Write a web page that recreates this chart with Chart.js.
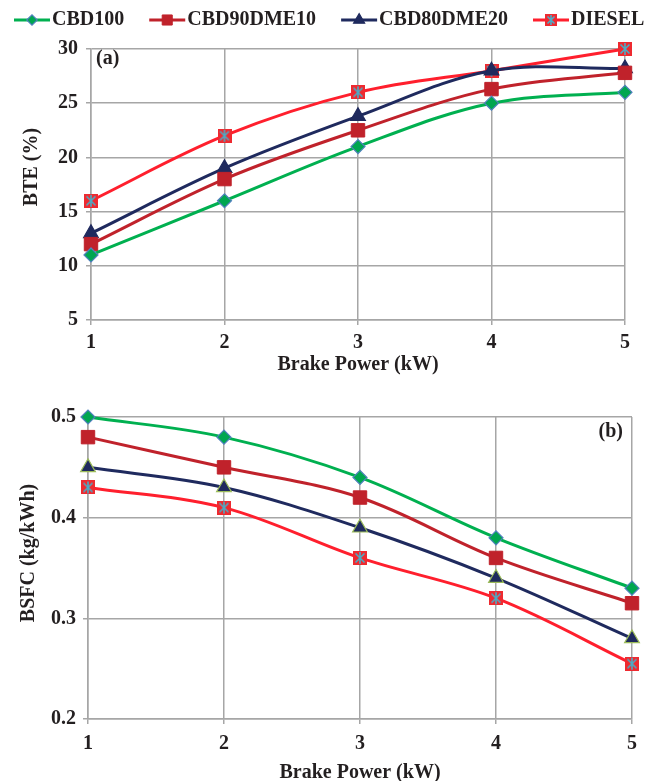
<!DOCTYPE html>
<html>
<head>
<meta charset="utf-8">
<script src="https://cdn.jsdelivr.net/npm/chart.js@4.4.1/dist/chart.umd.min.js"></script>
<style>
  html, body { margin: 0; padding: 0; background: #fff; }
  canvas { display: block; }
</style>
</head>
<body>
<canvas id="bteChart" width="659" height="375"></canvas>
<canvas id="bsfcChart" width="659" height="406"></canvas>
<script>
// Data
const brakePower = [1, 2, 3, 4, 5];
const seriesNames = ['CBD100', 'CBD90DME10', 'CBD80DME20', 'DIESEL'];

// (a) BTE (%)
const bteCBD100 = [11, 16, 21, 25, 26];
const bteCBD90 = [12, 18, 22.5, 26.3, 27.8];
const bteCBD80 = [13, 19, 23.8, 28, 28.2];
const bteDiesel = [16, 22, 26, 28, 30];
const bteTicks = [5, 10, 15, 20, 25, 30];

// (b) BSFC (kg/kWh)
const bsfcCBD100 = [0.5, 0.48, 0.44, 0.38, 0.33];
const bsfcCBD90 = [0.48, 0.45, 0.42, 0.36, 0.315];
const bsfcCBD80 = [0.45, 0.43, 0.39, 0.34, 0.28];
const bsfcDiesel = [0.43, 0.41, 0.36, 0.32, 0.255];
const bsfcTicks = [0.2, 0.3, 0.4, 0.5];

const textColor = '#231F20';
const gridColor = '#A6A6A6';
Chart.defaults.font.family = '"Liberation Serif", "Times New Roman", serif';
Chart.defaults.color = textColor;

// red square with a blue star, like the Excel marker
function dieselMarker(size) {
  const c = document.createElement('canvas');
  c.width = c.height = size;
  const g = c.getContext('2d');
  g.fillStyle = '#EE2A30';
  g.fillRect(0, 0, size, size);
  g.strokeStyle = '#4BACC6';
  g.lineWidth = 1.6;
  const m = 2.5;
  g.beginPath();
  g.moveTo(m, m); g.lineTo(size - m, size - m);
  g.moveTo(size - m, m); g.lineTo(m, size - m);
  g.moveTo(size / 2, 1); g.lineTo(size / 2, size - 1);
  g.stroke();
  return c;
}
const dieselPt = dieselMarker(14);
const dieselPtSmall = dieselMarker(12);

function makeDatasets(vals, triBorder) {
  return [
    { label: seriesNames[0], data: vals[0], borderColor: '#00B050', pointStyle: 'rectRot', pointRadius: 7,
      pointBackgroundColor: '#00A650', pointBorderColor: '#4F81BD', pointBorderWidth: 1.2 },
    { label: seriesNames[1], data: vals[1], borderColor: '#C0222B', pointStyle: 'rect', pointRadius: 9.5,
      pointBackgroundColor: '#C0222B', pointBorderColor: '#C0222B', pointBorderWidth: 1 },
    { label: seriesNames[2], data: vals[2], borderColor: '#1F2A5E', pointStyle: 'triangle', pointRadius: 8.5,
      pointBackgroundColor: '#1F2A5E', pointBorderColor: triBorder, pointBorderWidth: 1.2 },
    { label: seriesNames[3], data: vals[3], borderColor: '#FF1F2D', pointStyle: dieselPt, pointRadius: 7,
      pointBackgroundColor: '#FF1F2D', pointBorderColor: '#FF1F2D', pointBorderWidth: 0 }
  ].map(ds => Object.assign(ds, { borderWidth: 3, tension: 0.35, fill: false, clip: false }));
}

// legend drawn across the top of the first canvas
const topLegend = {
  id: 'topLegend',
  afterDraw(chart) {
    const ctx = chart.ctx;
    ctx.save();
    ctx.font = 'bold 20px "Liberation Serif"';
    ctx.textBaseline = 'middle';
    let x = 14;
    const y = 20;
    chart.data.datasets.forEach(ds => {
      ctx.strokeStyle = ds.borderColor;
      ctx.lineWidth = 3;
      ctx.beginPath();
      ctx.moveTo(x, y);
      ctx.lineTo(x + 36, y);
      ctx.stroke();
      ctx.fillStyle = ds.pointBackgroundColor;
      ctx.strokeStyle = ds.pointBorderColor;
      ctx.lineWidth = ds.pointBorderWidth;
      const style = ds.pointStyle === dieselPt ? dieselPtSmall : ds.pointStyle;
      Chart.helpers.drawPoint(ctx, { pointStyle: style, radius: ds.pointRadius * 0.75, borderWidth: ds.pointBorderWidth }, x + 18, y);
      ctx.fillStyle = textColor;
      ctx.fillText(ds.label, x + 38, y);
      x += 38 + ctx.measureText(ds.label).width + 25;
    });
    ctx.restore();
  }
};

// "(a)" / "(b)" panel tags
const panelTag = {
  id: 'panelTag',
  afterDraw(chart, args, opts) {
    const { ctx, chartArea } = chart;
    ctx.save();
    ctx.font = 'bold 20px "Liberation Serif"';
    ctx.fillStyle = textColor;
    ctx.textBaseline = 'middle';
    if (opts.side === 'left') {
      ctx.textAlign = 'left';
      ctx.fillText(opts.text, chartArea.left + 5, chartArea.top + 10);
    } else {
      ctx.textAlign = 'right';
      ctx.fillText(opts.text, chartArea.right - 9, chartArea.top + 15);
    }
    ctx.restore();
  }
};

const tickFont = { size: 20, weight: 'bold' };
const titleFont = { size: 20, weight: 'bold', lineHeight: 1 };

function makeOptions(o) {
  return {
    responsive: false,
    animation: false,
    layout: { padding: { top: o.top, right: o.right, left: 0, bottom: 0 } },
    plugins: {
      legend: { display: false },
      tooltip: { enabled: false },
      panelTag: { text: o.tag, side: o.tagSide }
    },
    scales: {
      x: {
        type: 'category',
        grid: { color: gridColor, lineWidth: 1.5, tickLength: 5, offset: false },
        border: { color: gridColor, width: 1.5 },
        ticks: { font: tickFont, padding: o.xTickPad, color: textColor },
        title: { display: true, text: 'Brake Power (kW)', font: titleFont, color: textColor, padding: { top: 0, bottom: o.xTitlePad } },
        afterFit: s => { s.height = o.xHeight; }
      },
      y: {
        min: o.ticks[0],
        max: o.ticks[o.ticks.length - 1],
        afterBuildTicks: s => { s.ticks = o.ticks.map(v => ({ value: v })); },
        grid: { color: gridColor, lineWidth: 1.5, tickLength: 5 },
        border: { color: gridColor, width: 1.5 },
        ticks: { font: tickFont, padding: o.tickPad, color: textColor, callback: o.fmt },
        title: { display: true, text: o.yTitle, font: titleFont, color: textColor, padding: { top: o.yTitlePad, bottom: 0 } },
        afterFit: s => { s.width = o.yWidth; }
      }
    }
  };
}

new Chart(document.getElementById('bteChart'), {
  type: 'line',
  data: {
    labels: brakePower.map(String),
    datasets: makeDatasets([bteCBD100, bteCBD90, bteCBD80, bteDiesel], '#1F2A5E')
  },
  options: makeOptions({
    top: 49, right: 34, xHeight: 55, yWidth: 91, tickPad: 8, yTitlePad: 22, xTickPad: 6, xTitlePad: 0,
    ticks: bteTicks, fmt: v => String(v), yTitle: '       BTE (%)', tag: '(a)', tagSide: 'left'
  }),
  plugins: [topLegend, panelTag]
});

new Chart(document.getElementById('bsfcChart'), {
  type: 'line',
  data: {
    labels: brakePower.map(String),
    datasets: makeDatasets([bsfcCBD100, bsfcCBD90, bsfcCBD80, bsfcDiesel], '#9BBB59')
  },
  options: makeOptions({
    top: 42, right: 27, xHeight: 62, yWidth: 88, tickPad: 7, yTitlePad: 19, xTickPad: 8, xTitlePad: -2,
    ticks: bsfcTicks, fmt: v => v.toFixed(1), yTitle: '      BSFC (kg/kWh)', tag: '(b)', tagSide: 'right'
  }),
  plugins: [panelTag]
});
</script>
</body>
</html>
